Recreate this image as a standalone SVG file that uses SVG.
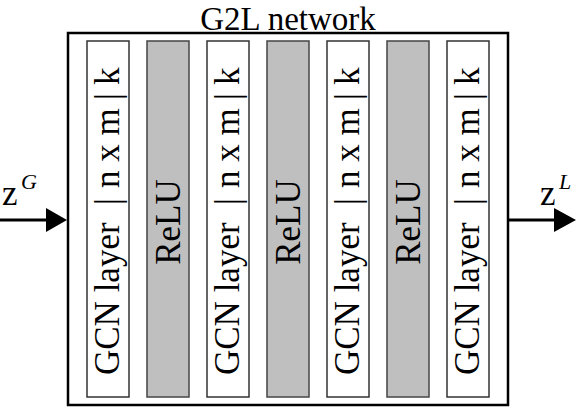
<svg xmlns="http://www.w3.org/2000/svg" width="578" height="408" viewBox="0 0 578 408">
<defs>
<style>
text{font-family:"Liberation Serif","Times New Roman",serif;fill:#000}
.t{font-size:35px}
.title{font-size:33px}
.col{fill:#fff;stroke:#333;stroke-width:1.5}
.relu{fill:#bfbfbf;stroke:#444;stroke-width:1.5}
.sup{font-size:22px;font-style:italic}
.conn{stroke:#000;stroke-width:3;fill:none}
</style>
</defs>
<rect width="578" height="408" fill="#fff"/>
<text class="title" x="288" y="29.6" text-anchor="middle">G2L network</text>
<g id="g2l">
<rect x="68" y="33" width="440" height="372" fill="#fff" stroke="#000" stroke-width="2.5"/>
</g>
<g id="gcn1">
<rect class="col" x="87" y="41" width="42" height="356"/>
<text class="t" transform="translate(119,0) rotate(-90)"><tspan x="-375">GCN layer</tspan><tspan x="-205">|</tspan><tspan x="-188">n x m</tspan><tspan x="-100">|</tspan><tspan x="-85">k</tspan></text>
</g>
<g id="relu1">
<rect class="relu" x="147" y="41" width="42" height="356"/>
<text class="t" transform="translate(180,222) rotate(-90)" text-anchor="middle">ReLU</text>
</g>
<g id="gcn2">
<rect class="col" x="207" y="41" width="42" height="356"/>
<text class="t" transform="translate(239,0) rotate(-90)"><tspan x="-375">GCN layer</tspan><tspan x="-205">|</tspan><tspan x="-188">n x m</tspan><tspan x="-100">|</tspan><tspan x="-85">k</tspan></text>
</g>
<g id="relu2">
<rect class="relu" x="267" y="41" width="42" height="356"/>
<text class="t" transform="translate(300,222) rotate(-90)" text-anchor="middle">ReLU</text>
</g>
<g id="gcn3">
<rect class="col" x="327" y="41" width="42" height="356"/>
<text class="t" transform="translate(359,0) rotate(-90)"><tspan x="-375">GCN layer</tspan><tspan x="-205">|</tspan><tspan x="-188">n x m</tspan><tspan x="-100">|</tspan><tspan x="-85">k</tspan></text>
</g>
<g id="relu3">
<rect class="relu" x="387" y="41" width="42" height="356"/>
<text class="t" transform="translate(420,222) rotate(-90)" text-anchor="middle">ReLU</text>
</g>
<g id="gcn4">
<rect class="col" x="447" y="41" width="42" height="356"/>
<text class="t" transform="translate(479,0) rotate(-90)"><tspan x="-375">GCN layer</tspan><tspan x="-205">|</tspan><tspan x="-188">n x m</tspan><tspan x="-100">|</tspan><tspan x="-85">k</tspan></text>
</g>
<g id="zG">
<text class="t" x="2" y="205">z</text><text class="sup" x="21" y="189">G</text>
</g>
<g id="zL">
<text class="t" x="540" y="205">z</text><text class="sup" x="559" y="189">L</text>
</g>
<g id="connectors">
<line class="conn" x1="0" y1="220" x2="48" y2="220"/>
<path d="M46,208 L67,220 L46,232 Z" fill="#000"/>
<line class="conn" x1="508" y1="220" x2="556" y2="220"/>
<path d="M554,208 L576,220 L554,232 Z" fill="#000"/>
</g>
</svg>
